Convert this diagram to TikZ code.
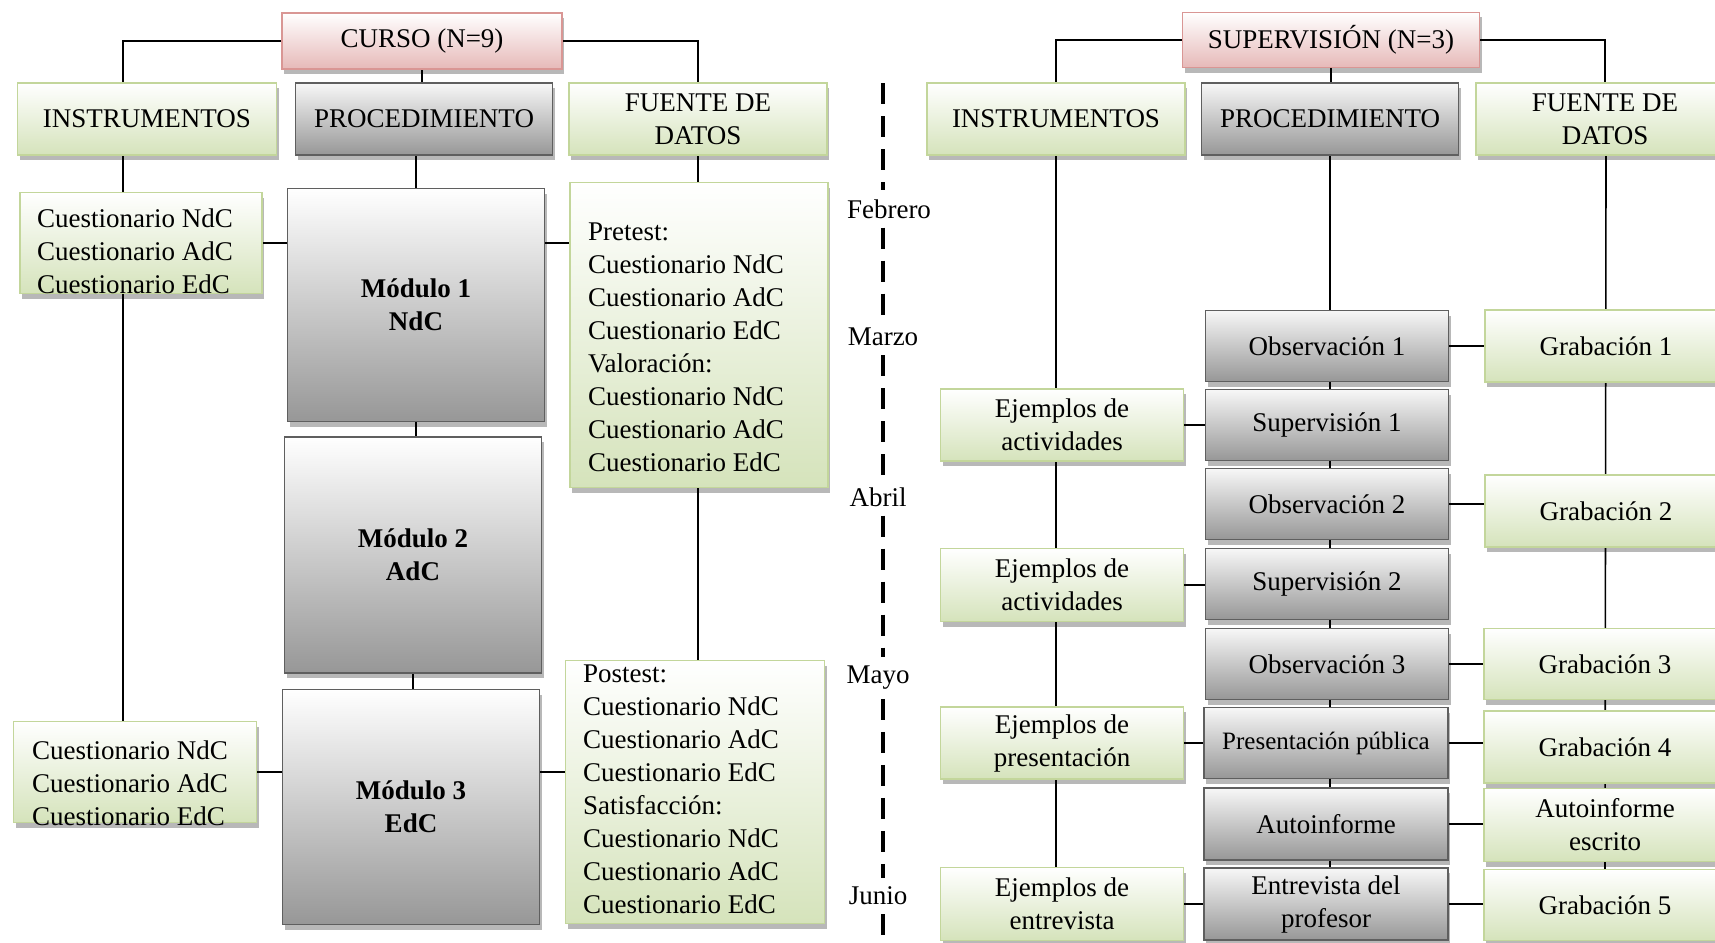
\documentclass[tikz,border=0pt]{standalone}
\usepackage{fontspec}
\setmainfont{Liberation Serif}
\usetikzlibrary{shadows,backgrounds}

\definecolor{grbd}{HTML}{C3D69B}
\definecolor{grbt}{HTML}{D5E3BB}
\definecolor{gybd}{HTML}{5F5F5F}
\definecolor{gytop}{HTML}{F7F7F7}
\definecolor{gybt}{HTML}{979797}
\definecolor{rdbd}{HTML}{D99694}
\definecolor{rdbt}{HTML}{E6B9B8}

\newcommand{\dgfont}{\fontsize{27}{33}\selectfont}

\tikzset{
  sz/.style 2 args={minimum width=#1pt, minimum height=#2pt},
  base/.style={draw, line width=1.5pt, inner sep=0pt, align=center, font=\dgfont,
    drop shadow={shadow xshift=2pt, shadow yshift=-5pt, fill=black, opacity=0.28}},
  greenbox/.style={base, draw=grbd, top color=white, bottom color=grbt},
  graybox/.style={base, draw=gybd, top color=gytop, bottom color=gybt},
  redbox/.style={base, draw=rdbd, top color=white, bottom color=rdbt},
  boxtext/.style={inner sep=0pt, align=left, font=\dgfont, anchor=west},
  month/.style={inner xsep=3pt, inner ysep=9pt, font=\dgfont},
  link/.style={line width=1.6pt, black},
  tie/.style={line width=2.8pt, black},
  timeline/.style={line width=3.5pt, dash pattern=on 21pt off 12pt},
}

\begin{document}
\begin{tikzpicture}[x=1pt, y=-1pt]
\useasboundingbox (0,0) rectangle (1715,942);
\clip (0,0) rectangle (1715,942);

% ---------------- CURSO ----------------
\node[redbox, sz={280}{56}] (curso) at (422,41) {CURSO (N=9)};
\node[greenbox, sz={259}{72}] (instL) at (147,119) {INSTRUMENTOS};
\node[graybox, sz={257}{72}] (procL) at (424,119) {PROCEDIMIENTO};
\node[greenbox, sz={258}{72}] (fuenteL) at (698,119) {FUENTE DE\\DATOS};

\node[greenbox, sz={242}{101}] (cuesL1) at (141,243) {};
\node[boxtext] (cuesL1t) at (37,251) {Cuestionario NdC\\Cuestionario AdC\\Cuestionario EdC};

\node[graybox, top color=white, sz={257}{233}, font=\dgfont\bfseries] (mod1) at (416,305) {Módulo 1\\NdC};
\node[graybox, top color=white, sz={257}{236}, font=\dgfont\bfseries] (mod2) at (413,555) {Módulo 2\\AdC};
\node[graybox, top color=white, sz={257}{235}, font=\dgfont\bfseries] (mod3) at (411,807) {Módulo 3\\EdC};

\node[greenbox, sz={258}{305}] (pre) at (699,335) {};
\node[boxtext] (pret) at (588,347) {Pretest:\\Cuestionario NdC\\Cuestionario AdC\\Cuestionario EdC\\Valoración:\\Cuestionario NdC\\Cuestionario AdC\\Cuestionario EdC};

\node[greenbox, sz={243}{101}] (cuesL2) at (135,772) {};
\node[boxtext] (cuesL2t) at (32,783) {Cuestionario NdC\\Cuestionario AdC\\Cuestionario EdC};

\node[greenbox, sz={259}{263}] (post) at (695,792) {};
\node[boxtext] (postt) at (583,789) {Postest:\\Cuestionario NdC\\Cuestionario AdC\\Cuestionario EdC\\Satisfacción:\\Cuestionario NdC\\Cuestionario AdC\\Cuestionario EdC};

\coordinate (railL) at (123,0);

% ---------------- timeline ----------------
\node[month] (feb) at (889,209) {Febrero};
\node[month] (mar) at (883,337) {Marzo};
\node[month] (abr) at (878,497) {Abril};
\node[month] (may) at (878,678) {Mayo};
\node[month] (jun) at (878,896) {Junio};
\coordinate (tlTop) at (883,83);
\coordinate (tlBot) at (883,942);
\draw[timeline] (tlTop) -- (tlTop |- feb.north);
\draw[timeline] (tlTop |- feb.south) -- (tlTop |- mar.north);
\draw[timeline] (tlTop |- mar.south) -- (tlTop |- abr.north);
\draw[timeline] (tlTop |- abr.south) -- (tlTop |- may.north);
\draw[timeline] (tlTop |- may.south) -- (tlTop |- jun.north);
\draw[timeline] (tlTop |- jun.south) -- (tlBot);

% ---------------- SUPERVISIÓN ----------------
\node[redbox, sz={297}{55}] (sup) at (1331,40) {SUPERVISIÓN (N=3)};
\node[greenbox, sz={258}{72}] (instR) at (1056,119) {INSTRUMENTOS};
\node[graybox, sz={257}{72}] (procR) at (1330,119) {PROCEDIMIENTO};
\node[greenbox, sz={258}{72}] (fuenteR) at (1605,119) {FUENTE DE\\DATOS};

\node[graybox, sz={243}{71}] (obs1) at (1327,346) {Observación 1};
\node[graybox, sz={243}{71}] (sup1) at (1327,425) {Supervisión 1};
\node[graybox, sz={243}{71}] (obs2) at (1327,504) {Observación 2};
\node[graybox, sz={243}{71}] (sup2) at (1327,584) {Supervisión 2};
\node[graybox, sz={243}{71}] (obs3) at (1327,664) {Observación 3};
\node[graybox, sz={244}{71}, font=\fontsize{25}{31}\selectfont] (pres) at (1326,743) {Presentación pública};
\node[graybox, sz={244}{72}] (auto) at (1326,824) {Autoinforme};
\node[graybox, sz={244}{72}] (entr) at (1326,904) {Entrevista del\\profesor};

\node[greenbox, sz={243}{72}] (ej1) at (1062,425) {Ejemplos de\\actividades};
\node[greenbox, sz={243}{73}] (ej2) at (1062,585) {Ejemplos de\\actividades};
\node[greenbox, sz={243}{72}] (ej3) at (1062,743) {Ejemplos de\\presentación};
\node[greenbox, sz={243}{73}] (ej4) at (1062,904) {Ejemplos de\\entrevista};

\node[greenbox, sz={242}{72}] (gr1) at (1606,346) {Grabación 1};
\node[greenbox, sz={242}{72}] (gr2) at (1606,511) {Grabación 2};
\node[greenbox, sz={242}{71}] (gr3) at (1605,664) {Grabación 3};
\node[greenbox, sz={242}{72}] (gr4) at (1605,747) {Grabación 4};
\node[greenbox, sz={242}{73}] (autoesc) at (1605,825) {Autoinforme\\escrito};
\node[greenbox, sz={242}{71}] (gr5) at (1605,905) {Grabación 5};

% ---------------- connectors ----------------
\begin{scope}[on background layer]
  % course tree
  \draw[link] (curso.west) -| (instL.north -| railL);
  \draw[link] (curso.east) -| (fuenteL.north);
  \draw[link] (curso.south) -- (procL.north -| curso.south);
  \draw[link] (instL.south -| railL) -- (cuesL2.north -| railL);
  \draw[link] (procL.south -| mod1.north) -- (mod1.north);
  \draw[link] (mod1.south) -- (mod1.south |- mod2.north);
  \draw[link] (mod2.south) -- (mod2.south |- mod3.north);
  \draw[link] (fuenteL.south) -- (fuenteL.south |- pre.north);
  \draw[link] (pre.south -| fuenteL.south) -- (post.north -| fuenteL.south);
  \draw[tie] (cuesL1.east) -- (cuesL1.east -| mod1.west);
  \draw[tie] (mod1.east |- cuesL1.east) -- (pre.west |- cuesL1.east);
  \draw[tie] (cuesL2.east) -- (cuesL2.east -| mod3.west);
  \draw[tie] (mod3.east |- cuesL2.east) -- (post.west |- cuesL2.east);

  % supervision tree
  \draw[link] (sup.west) -| (instR.north);
  \draw[link] (sup.east) -| (fuenteR.north);
  \draw[link] (sup.south) -- (procR.north -| sup.south);
  \draw[link] (instR.south) -- (instR.south |- ej4.north);
  \draw[link] (procR.south) -- (procR.south |- entr.north);
  \draw[link] (fuenteR.south -| gr1.north) -- (gr5.north);
  \draw[tie] (ej1.east) -- (ej1.east -| sup1.west);
  \draw[tie] (ej2.east) -- (ej2.east -| sup2.west);
  \draw[tie] (ej3.east) -- (ej3.east -| pres.west);
  \draw[tie] (ej4.east) -- (ej4.east -| entr.west);
  \draw[tie] (obs1.east) -- (obs1.east -| gr1.west);
  \draw[tie] (obs2.east) -- (obs2.east -| gr2.west);
  \draw[tie] (obs3.east) -- (obs3.east -| gr3.west);
  \draw[tie] (pres.east) -- (pres.east -| gr4.west);
  \draw[tie] (auto.east) -- (auto.east -| autoesc.west);
  \draw[tie] (entr.east) -- (entr.east -| gr5.west);
\end{scope}
\end{tikzpicture}
\end{document}
